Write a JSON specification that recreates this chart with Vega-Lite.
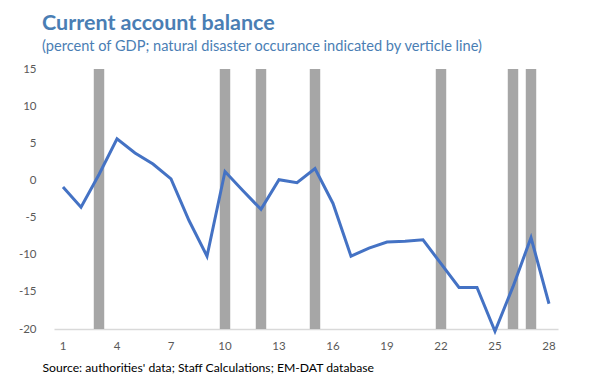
{
  "$schema": "https://vega.github.io/schema/vega-lite/v6.json",
  "width": 504,
  "height": 260,
  "autosize": "none",
  "padding": {"left": 54, "top": 69, "right": 46, "bottom": 46},
  "background": "white",
  "title": {
    "text": "Current account balance",
    "subtitle": "(percent of GDP; natural disaster occurance indicated by verticle line)",
    "anchor": "start",
    "frame": "group",
    "dx": -12,
    "offset": 9,
    "font": "Lato",
    "fontSize": 21.5,
    "fontWeight": "bold",
    "color": "#4a7eb4",
    "subtitleFont": "Lato",
    "subtitleFontSize": 14.6,
    "subtitleColor": "#4a7eb4",
    "subtitlePadding": 5
  },
  "datasets": {
    "ca": [
      {"t": 1, "v": -0.9}, {"t": 2, "v": -3.6}, {"t": 3, "v": 0.8}, {"t": 4, "v": 5.6},
      {"t": 5, "v": 3.7}, {"t": 6, "v": 2.2}, {"t": 7, "v": 0.2}, {"t": 8, "v": -5.4},
      {"t": 9, "v": -10.2}, {"t": 10, "v": 1.2}, {"t": 11, "v": -1.4}, {"t": 12, "v": -3.9},
      {"t": 13, "v": 0.1}, {"t": 14, "v": -0.3}, {"t": 15, "v": 1.6}, {"t": 16, "v": -3.1},
      {"t": 17, "v": -10.2}, {"t": 18, "v": -9.1}, {"t": 19, "v": -8.3}, {"t": 20, "v": -8.2},
      {"t": 21, "v": -8.0}, {"t": 22, "v": -11.2}, {"t": 23, "v": -14.4}, {"t": 24, "v": -14.4},
      {"t": 25, "v": -20.3}, {"t": 26, "v": -14.3}, {"t": 27, "v": -7.7}, {"t": 28, "v": -16.6}
    ],
    "disaster": [
      {"t": 3}, {"t": 10}, {"t": 12}, {"t": 15}, {"t": 22}, {"t": 26}, {"t": 27}
    ]
  },
  "encoding": {
    "x": {
      "field": "t",
      "type": "ordinal",
      "scale": {"type": "band", "paddingInner": 0, "paddingOuter": 0, "domain": [1,2,3,4,5,6,7,8,9,10,11,12,13,14,15,16,17,18,19,20,21,22,23,24,25,26,27,28]},
      "axis": {
        "values": [1, 4, 7, 10, 13, 16, 19, 22, 25, 28],
        "labelAngle": 0,
        "ticks": false,
        "domainColor": "#d9d9d9",
        "domainWidth": 1.5,
        "labelPadding": 11,
        "labelFont": "Lato",
        "labelFontSize": 11.5,
        "labelColor": "#595959",
        "title": "Source: authorities' data; Staff Calculations; EM-DAT database",
        "titleFont": "Lato",
        "titleFontSize": 12.2,
        "titleFontWeight": "normal",
        "titleColor": "#000000",
        "titleAnchor": "start",
        "titleX": -12,
        "titleY": 38,
        "titleBaseline": "middle",
        "titleAlign": "left"
      }
    }
  },
  "layer": [
    {
      "data": {"name": "disaster"},
      "mark": {"type": "bar", "color": "#a6a6a6", "width": {"band": 0.58}},
      "encoding": {
        "y": {"datum": 15, "type": "quantitative", "scale": {"domain": [-20, 15], "nice": false}, "axis": {"values": [-20, -15, -10, -5, 0, 5, 10, 15], "title": null}},
        "y2": {"datum": -20}
      }
    },
    {
      "data": {"name": "ca"},
      "mark": {"type": "line", "color": "#4472c4", "strokeWidth": 3},
      "encoding": {
        "y": {
          "field": "v",
          "type": "quantitative",
          "scale": {"domain": [-20, 15], "nice": false},
          "axis": {"values": [-20, -15, -10, -5, 0, 5, 10, 15], "title": null}
        }
      }
    }
  ],
  "config": {
    "view": {"stroke": null},
    "axisY": {
      "labelOverlap": false,
      "labelExpr": "replace(datum.label, '\u2212', '-')",
      "grid": false,
      "domain": false,
      "ticks": false,
      "labelPadding": 18,
      "labelFont": "Lato",
      "labelFontSize": 11.5,
      "labelColor": "#595959"
    }
  }
}
